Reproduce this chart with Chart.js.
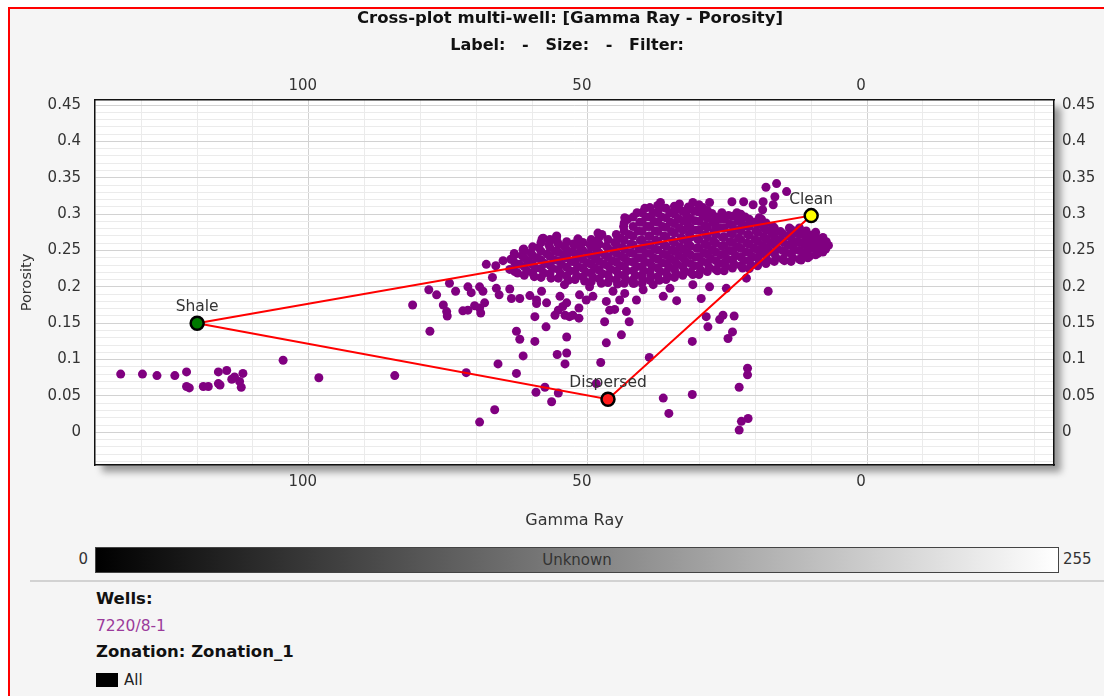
<!DOCTYPE html>
<html>
<head>
<meta charset="utf-8">
<title>Cross-plot multi-well: [Gamma Ray - Porosity]</title>
<script src="https://cdn.jsdelivr.net/npm/chart.js@4.4.0/dist/chart.umd.min.js"></script>
<style>
  html, body { margin: 0; padding: 0; }
  body { width: 1104px; height: 696px; position: relative; overflow: hidden; background: #ffffff;
         font-family: "DejaVu Sans", Verdana, sans-serif; color: #222; }
  #panel { position: absolute; left: 8px; top: 7px; width: 1110px; height: 700px;
           border-left: 2px solid #ff0000; border-top: 2px solid #ff0000; background: #f5f5f5; }
  #plot { position: absolute; left: 0; top: 0; }
  .txt { position: absolute; white-space: pre; }
  .center { transform: translateX(-50%); }
  #title { left: 570px; top: 8px; line-height: 20px; font-weight: bold; font-size: 16.5px; color: #111; }
  #subtitle { left: 567px; top: 35px; line-height: 20px; font-weight: bold; font-size: 16px; color: #111; }
  #scalebar { position: absolute; left: 95px; top: 547px; width: 962px; height: 24px;
              border: 1px solid #444; background: linear-gradient(to right, #000000, #ffffff);
              text-align: center; line-height: 24px; font-size: 15px; color: #333; }
  #sep { position: absolute; left: 30px; top: 580px; width: 1074px; height: 2px; background: #d2d2d2; }
  .legend-head { font-weight: bold; font-size: 16.5px; color: #111; line-height: 20px; }
  #swatch { position: absolute; left: 96px; top: 673px; width: 22px; height: 14px; background: #000; }
</style>
</head>
<body>
<div id="panel"></div>
<canvas id="plot" width="1104" height="540"></canvas>

<div id="title" class="txt center">Cross-plot multi-well: [Gamma Ray - Porosity]</div>
<div id="subtitle" class="txt center">Label:   -   Size:   -   Filter:</div>

<div id="scalebar">Unknown</div>
<div class="txt" style="left:60px; width:28px; text-align:right; top:549px; line-height:20px; font-size:15px; color:#333;">0</div>
<div class="txt" style="left:1063px; top:549px; line-height:20px; font-size:15px; color:#333;">255</div>
<div id="sep"></div>

<div class="txt legend-head" style="left:96px; top:589px;">Wells:</div>
<div class="txt" style="left:96px; top:616px; line-height:20px; font-size:15.5px; color:#9b3b9b;">7220/8-1</div>
<div class="txt legend-head" style="left:96px; top:642px;">Zonation: Zonation_1</div>
<div id="swatch"></div>
<div class="txt" style="left:124px; top:670px; line-height:20px; font-size:15px; color:#222;">All</div>

<script>
// Axis ranges (Gamma Ray runs right-to-left)
const grMin = -33.5;
const grMax = 138.3;
const phiMin = -0.045;
const phiMax = 0.457;

// End members of the shale / clean / dispersed triangle
const endMemberNames = ['Shale', 'Dispersed', 'Clean'];
const endMemberGR = [120, 46.4, 10];
const endMemberPhi = [0.15, 0.0455, 0.298];
const endMemberColors = ['#007a00', '#ff1a1a', '#ffff00'];

// Well 7220/8-1 samples as [gamma ray, porosity]
const shaleTail = [
  [133.7,0.080],[129.8,0.080],[127.2,0.078],[124.0,0.078],[121.9,0.083],[121.9,0.063],
  [121.4,0.061],[118.9,0.063],[118.0,0.063],[116.2,0.067],[115.9,0.065],[116.2,0.083],
  [114.7,0.085],[113.8,0.073],[113.3,0.076],[111.8,0.081],[112.4,0.070],[112.1,0.062],
  [104.6,0.099],[98.2,0.075],[84.6,0.078]
];

const lowScatter = [
  [81.4,0.175],[78.3,0.139],[75.9,0.175],[75.3,0.166],[75.2,0.160],[72.4,0.167],[71.5,0.168],
  [70.3,0.174],[69.4,0.171],[69.2,0.164],[68.5,0.178],[71.8,0.082],[69.4,0.014],[66.7,0.031],
  [66.1,0.094],[62.8,0.139],[62.2,0.128],[62.8,0.081],[61.6,0.105],[59.5,0.159],[59.5,0.125],
  [59.2,0.177],[59.2,0.182],[57.4,0.178],[59.3,0.055],[57.7,0.062],[57.5,0.145],[56.5,0.042],
  [55.9,0.161],[55.3,0.168],[54.5,0.173],[54.1,0.161],[53.8,0.178],[53.3,0.159],[52.7,0.161],
  [51.6,0.171],[51.6,0.157],[55.5,0.107],[53.8,0.109],[55.3,0.054],[54.1,0.094],[53.8,0.131],
  [47.7,0.096],[48.5,0.067],[47.0,0.152],[46.7,0.123],[46.1,0.168],[45.2,0.169],[44.0,0.134],
  [43.1,0.166],[42.6,0.152],[39.0,0.103],[36.5,0.047],[35.5,0.026],[31.3,0.125],[31.3,0.052],
  [28.8,0.159],[28.5,0.145],[26.4,0.155],[25.8,0.161],[23.8,0.160],[24.9,0.129],[24.1,0.138],
  [22.9,0.062],[21.4,0.088],[21.4,0.079],[22.5,0.015],[21.3,0.019],[22.9,0.003]
];

const bandFringe = [
  [78.5,0.196],[77.1,0.189],[74.8,0.205],[73.7,0.194],[71.5,0.200],[70.9,0.192],[69.4,0.200],
  [68.8,0.194],[68.2,0.231],[67.1,0.213],[66.4,0.198],[65.9,0.189],[64.0,0.197],[63.7,0.184],
  [62.2,0.184],[60.4,0.188],[58.3,0.194],[55.0,0.187],[54.2,0.203],[51.5,0.189],[49.7,0.200],
  [49.1,0.187],[46.7,0.180],[45.5,0.194],[43.4,0.191],[41.9,0.205],[40.1,0.196],[38.3,0.203],
  [36.5,0.187],[35.3,0.198],[34.1,0.181],[31.2,0.203],[29.7,0.184],[28.2,0.200],[25.2,0.198],
  [21.6,0.212],[17.7,0.194],[50.3,0.182],[44.3,0.182],[41.3,0.182],
  [58.0,0.267],[55.6,0.269],[51.8,0.266],[48.2,0.274],[43.4,0.295],[61.6,0.251]
];

const highScatter = [
  [18.1,0.337],[16.2,0.342],[14.4,0.331],[16.5,0.324],[18.6,0.317],[16.8,0.313],
  [20.4,0.313],[22.1,0.317],[24.2,0.317],[28.2,0.316],[18.7,0.306],[19.3,0.295]
];

const bandWest = [
  [66.5,0.229],[65.2,0.236],
  [64.0,0.224],[63.8,0.238],[63.2,0.246],
  [62.6,0.219],[62.3,0.231],[61.8,0.243],[61.5,0.252],
  [60.9,0.222],[60.7,0.236],[60.2,0.247],
  [59.6,0.214],[59.4,0.226],[59.1,0.240],[58.8,0.254],[58.2,0.266],
  [57.9,0.219],[57.7,0.232],[57.3,0.245],[57.0,0.258],
  [56.6,0.212],[56.3,0.225],[56.0,0.237],[55.8,0.249],[55.5,0.262],[55.6,0.270],
  [54.9,0.218],[54.7,0.231],[54.4,0.244],[54.2,0.256],
  [53.5,0.209],[53.2,0.222],[53.0,0.235],[52.8,0.248],[52.6,0.259],
  [52.0,0.215],[51.8,0.228],[51.5,0.241],[51.3,0.253],[51.7,0.265],
  [50.6,0.208],[50.3,0.220],[50.1,0.233],[49.9,0.246],[49.6,0.258],
  [49.1,0.213],[48.8,0.226],[48.6,0.239],[48.4,0.251],[48.9,0.262],
  [47.6,0.205],[47.4,0.218],[47.1,0.231],[46.9,0.243],[46.7,0.256],[47.5,0.272],
  [46.1,0.211],[45.9,0.224],[45.6,0.236],[45.4,0.249],[45.2,0.261],
  [44.7,0.204],[44.5,0.217],[44.2,0.229],[44.0,0.242],[43.8,0.254],[44.1,0.267],[43.6,0.283],
  [43.2,0.210],[43.0,0.222],[42.8,0.235],[42.5,0.247],[42.3,0.259],[42.6,0.272],[42.9,0.293]
];

const bandEast = [
  [41.7,0.205],[41.5,0.216],[41.2,0.228],[41.0,0.240],[40.8,0.252],[40.6,0.264],[41.0,0.277],[40.7,0.289],[41.2,0.302],
  [40.2,0.211],[40.0,0.222],[39.7,0.234],[39.5,0.246],[39.3,0.258],[39.1,0.270],[39.4,0.283],[39.6,0.296],[39.8,0.308],
  [38.7,0.215],[38.5,0.228],[38.2,0.240],[38.0,0.252],[37.8,0.264],[37.9,0.277],[38.1,0.290],[38.3,0.302],
  [37.2,0.209],[37.0,0.221],[36.7,0.233],[36.5,0.245],[36.3,0.257],[36.4,0.270],[36.6,0.283],[36.8,0.296],[36.9,0.309],[37.0,0.316],
  [35.6,0.214],[35.4,0.227],[35.2,0.239],[35.0,0.251],[34.8,0.263],[35.0,0.276],[35.2,0.289],[35.3,0.302],
  [34.2,0.218],[34.0,0.231],[33.7,0.243],[33.5,0.255],[33.3,0.268],[33.6,0.281],[33.8,0.294],[33.9,0.307],[33.6,0.314],
  [32.7,0.222],[32.5,0.235],[32.2,0.247],[32.0,0.259],[31.8,0.272],[32.1,0.285],[32.3,0.298],[32.0,0.310],
  [31.2,0.217],[31.0,0.229],[30.7,0.241],[30.5,0.253],[30.3,0.265],[30.6,0.278],[30.8,0.291],[30.9,0.304],[31.2,0.316],
  [29.8,0.223],[29.5,0.235],[29.2,0.247],[29.0,0.259],[28.9,0.272],[29.1,0.284],[29.3,0.297],[29.4,0.309],
  [28.3,0.227],[28.0,0.239],[27.7,0.251],[27.5,0.263],[27.4,0.276],[27.6,0.289],[27.8,0.301],
  [26.8,0.222],[26.5,0.232],[26.2,0.244],[26.0,0.256],[25.9,0.268],[26.1,0.281],[26.3,0.293],[26.0,0.302],
  [25.3,0.228],[25.0,0.238],[24.7,0.250],[24.5,0.262],[24.4,0.274],[24.6,0.286],[24.8,0.298],
  [23.8,0.231],[23.5,0.243],[23.2,0.255],[23.0,0.267],[22.9,0.279],[23.1,0.291],[23.3,0.302],
  [22.3,0.226],[22.0,0.236],[21.7,0.248],[21.5,0.260],[21.4,0.272],[21.6,0.284],[21.8,0.296],
  [20.8,0.230],[20.5,0.241],[20.2,0.253],[20.0,0.265],[19.9,0.277],[20.1,0.289],
  [19.3,0.234],[19.0,0.246],[18.7,0.257],[18.5,0.269],[18.4,0.281],[18.9,0.293],
  [17.8,0.236],[17.5,0.249],[17.2,0.261],[17.0,0.273],[16.9,0.283],
  [16.3,0.240],[16.0,0.252],[15.7,0.264],[15.5,0.276],
  [14.8,0.236],[14.5,0.247],[14.2,0.258],[14.0,0.270],[13.9,0.281],
  [13.3,0.240],[13.0,0.251],[12.7,0.262],[12.5,0.274],
  [11.8,0.237],[11.5,0.247],[11.2,0.258],[11.0,0.268],[10.9,0.277],
  [10.3,0.242],[10.0,0.253],[9.7,0.263],[9.5,0.272],
  [8.8,0.246],[8.5,0.256],[8.3,0.266],
  [7.4,0.252],[7.3,0.262]
];

// Samples lying between the rows above, where the band is packed solid
const bandInfill = [
  [63.1,0.221],[63.1,0.233],[63.1,0.244],
  [61.4,0.216],[61.4,0.228],[61.4,0.240],[61.4,0.250],
  [59.9,0.219],[59.9,0.231],[59.9,0.243],[59.9,0.255],
  [58.4,0.213],[58.4,0.225],[58.4,0.237],[58.4,0.249],[58.4,0.261],
  [56.8,0.218],[56.8,0.230],[56.8,0.242],[56.8,0.254],[56.8,0.265],
  [55.3,0.212],[55.3,0.224],[55.3,0.236],[55.3,0.248],[55.3,0.259],
  [53.8,0.215],[53.8,0.227],[53.8,0.240],[53.8,0.251],[53.8,0.262],
  [52.3,0.210],[52.3,0.222],[52.3,0.234],[52.3,0.246],[52.3,0.258],
  [50.9,0.214],[50.9,0.226],[50.9,0.238],[50.9,0.250],[50.9,0.261],
  [49.4,0.207],[49.4,0.219],[49.4,0.231],[49.4,0.243],[49.4,0.255],[49.4,0.265],
  [48.0,0.211],[48.0,0.223],[48.0,0.235],[48.0,0.247],[48.0,0.259],[48.0,0.268],
  [46.4,0.206],[46.4,0.217],[46.4,0.229],[46.4,0.241],[46.4,0.253],[46.4,0.265],
  [44.9,0.210],[44.9,0.222],[44.9,0.234],[44.9,0.246],[44.9,0.258],[44.9,0.272],
  [43.5,0.205],[43.5,0.216],[43.5,0.228],[43.5,0.240],[43.5,0.252],[43.5,0.264],[43.5,0.277],[43.5,0.288],
  [41.9,0.210],[41.9,0.222],[41.9,0.234],[41.9,0.246],[41.9,0.258],[41.9,0.270],[41.9,0.283],[41.9,0.296],
  [40.3,0.205],[40.3,0.216],[40.3,0.228],[40.3,0.240],[40.3,0.252],[40.3,0.264],[40.3,0.276],[40.3,0.289],[40.3,0.302],
  [38.9,0.209],[38.9,0.221],[38.9,0.233],[38.9,0.246],[38.9,0.258],[38.9,0.270],[38.9,0.283],[38.9,0.296],[38.9,0.309],
  [37.5,0.214],[37.5,0.226],[37.5,0.238],[37.5,0.251],[37.5,0.263],[37.5,0.276],[37.5,0.289],[37.5,0.302],[37.5,0.312],
  [36.0,0.210],[36.0,0.220],[36.0,0.232],[36.0,0.244],[36.0,0.256],[36.0,0.269],[36.0,0.282],[36.0,0.295],[36.0,0.308],
  [34.5,0.213],[34.5,0.224],[34.5,0.236],[34.5,0.249],[34.5,0.261],[34.5,0.274],[34.5,0.287],[34.5,0.300],[34.5,0.311],
  [33.0,0.216],[33.0,0.228],[33.0,0.240],[33.0,0.252],[33.0,0.265],[33.0,0.278],[33.0,0.291],[33.0,0.304],
  [31.6,0.220],[31.6,0.232],[31.6,0.244],[31.6,0.256],[31.6,0.268],[31.6,0.281],[31.6,0.294],[31.6,0.307],
  [30.1,0.217],[30.1,0.229],[30.1,0.241],[30.1,0.253],[30.1,0.265],[30.1,0.278],[30.1,0.290],[30.1,0.303],[30.1,0.313],
  [28.6,0.221],[28.6,0.233],[28.6,0.245],[28.6,0.257],[28.6,0.269],[28.6,0.282],[28.6,0.294],[28.6,0.305],
  [27.1,0.224],[27.1,0.236],[27.1,0.248],[27.1,0.260],[27.1,0.272],[27.1,0.284],[27.1,0.296],
  [25.6,0.222],[25.6,0.233],[25.6,0.245],[25.6,0.257],[25.6,0.269],[25.6,0.281],[25.6,0.293],
  [24.1,0.226],[24.1,0.237],[24.1,0.249],[24.1,0.261],[24.1,0.273],[24.1,0.285],[24.1,0.297],
  [22.6,0.229],[22.6,0.241],[22.6,0.253],[22.6,0.265],[22.6,0.277],[22.6,0.289],[22.6,0.300],
  [21.1,0.225],[21.1,0.236],[21.1,0.247],[21.1,0.259],[21.1,0.271],[21.1,0.283],[21.1,0.293],
  [19.6,0.229],[19.6,0.240],[19.6,0.251],[19.6,0.263],[19.6,0.275],[19.6,0.286],
  [18.1,0.232],[18.1,0.243],[18.1,0.254],[18.1,0.266],[18.1,0.278],[18.1,0.288],
  [16.6,0.235],[16.6,0.246],[16.6,0.258],[16.6,0.270],[16.6,0.281],
  [15.1,0.238],[15.1,0.250],[15.1,0.262],[15.1,0.273],
  [13.6,0.235],[13.6,0.246],[13.6,0.257],[13.6,0.268],[13.6,0.279],
  [12.1,0.238],[12.1,0.250],[12.1,0.261],[12.1,0.272],[12.1,0.281],
  [10.6,0.240],[10.6,0.251],[10.6,0.262],[10.6,0.272],
  [9.2,0.244],[9.2,0.255],[9.2,0.265],[9.2,0.275],
  [7.9,0.248],[7.9,0.258],[7.9,0.268],
  [6.9,0.257]
];

const FONT = '"DejaVu Sans", Verdana, sans-serif';
const TICK_COLOR = '#333';

const wellPoints = [shaleTail, lowScatter, bandFringe, highScatter, bandWest, bandEast, bandInfill]
  .flat()
  .map(([gr, phi]) => ({ x: gr, y: phi }));

const endMembers = endMemberNames.map((name, i) => ({ x: endMemberGR[i], y: endMemberPhi[i], name }));
// Shale -> Clean -> Dispersed -> Shale
const triangle = [endMembers[0], endMembers[2], endMembers[1], endMembers[0]].map(p => ({ x: p.x, y: p.y }));

const isMajorGR = v => Math.abs(v % 50) < 1e-6;
const isMajorPhi = v => Math.abs(v * 20 - Math.round(v * 20)) < 1e-6;
const grLabel = v => (isMajorGR(v) ? String(Math.round(v)) : '');
const phiLabel = v => (v > -1e-9 && isMajorPhi(v) ? String(Number(v.toFixed(2))) : '');

// White plot area with a soft drop shadow
const plotBackdrop = {
  id: 'plotBackdrop',
  beforeDraw(chart) {
    const { ctx, chartArea: a } = chart;
    ctx.save();
    ctx.shadowColor = 'rgba(0,0,0,0.38)';
    ctx.shadowBlur = 7;
    ctx.shadowOffsetX = 7;
    ctx.shadowOffsetY = 7;
    ctx.fillStyle = '#ffffff';
    ctx.fillRect(a.left, a.top, a.right - a.left, a.bottom - a.top);
    ctx.restore();
  }
};

// Names written above the end-member markers
const endMemberLabels = {
  id: 'endMemberLabels',
  afterDatasetsDraw(chart) {
    const { ctx, scales } = chart;
    ctx.save();
    ctx.font = '15.5px ' + FONT;
    ctx.fillStyle = '#333';
    ctx.textAlign = 'center';
    ctx.textBaseline = 'alphabetic';
    endMembers.forEach(p => {
      const px = scales.x.getPixelForValue(p.x);
      const py = scales.y.getPixelForValue(p.y);
      ctx.fillText(p.name, px, py - 12);
    });
    ctx.restore();
  }
};

const grTicks = (padding) => ({
  stepSize: 10, autoSkip: false, includeBounds: false, maxRotation: 0, minRotation: 0,
  padding, labelOffset: -6, color: TICK_COLOR, font: { family: FONT, size: 15 }, callback: grLabel
});
const phiTicks = (padding) => ({
  stepSize: 0.01, autoSkip: false, includeBounds: false,
  padding, color: TICK_COLOR, font: { family: FONT, size: 15 }, callback: phiLabel
});
const frame = { display: true, color: '#111', width: 1.5 };

new Chart(document.getElementById('plot'), {
  type: 'scatter',
  data: {
    datasets: [
      {
        label: 'End members',
        data: endMembers.map(p => ({ x: p.x, y: p.y })),
        order: 0,
        pointStyle: 'circle',
        pointRadius: 6.5,
        pointBackgroundColor: endMemberColors,
        pointBorderColor: '#000',
        pointBorderWidth: 2.5
      },
      {
        label: 'Triangle',
        data: triangle,
        order: 1,
        showLine: true,
        borderColor: '#ff0000',
        borderWidth: 2,
        tension: 0,
        pointRadius: 0,
        fill: false
      },
      {
        label: '7220/8-1',
        data: wellPoints,
        order: 2,
        pointRadius: 4.5,
        pointBackgroundColor: '#800080',
        pointBorderWidth: 0
      }
    ]
  },
  options: {
    responsive: false,
    devicePixelRatio: 1,
    animation: false,
    layout: { padding: 0 },
    plugins: { legend: { display: false }, tooltip: { enabled: false }, title: { display: false } },
    scales: {
      x: {
        type: 'linear', position: 'bottom', reverse: true, min: grMin, max: grMax,
        afterFit: s => { s.height = 75; },
        ticks: grTicks(8),
        grid: { drawTicks: false, lineWidth: 1, color: c => (c.tick && isMajorGR(c.tick.value) ? '#d2d2d2' : '#ebebeb') },
        border: frame,
        title: { display: true, text: 'Gamma Ray', color: '#333', font: { family: FONT, size: 16 }, padding: { top: 0, bottom: 10 } }
      },
      x2: {
        type: 'linear', position: 'top', reverse: true, min: grMin, max: grMax,
        afterFit: s => { s.height = 100; },
        ticks: grTicks(5),
        grid: { display: false, drawTicks: false },
        border: frame
      },
      y: {
        type: 'linear', position: 'left', min: phiMin, max: phiMax,
        afterFit: s => { s.width = 95; },
        ticks: phiTicks(14),
        grid: { drawTicks: false, lineWidth: 1, color: c => (c.tick && isMajorPhi(c.tick.value) ? '#d2d2d2' : '#ebebeb') },
        border: frame,
        title: { display: true, text: 'Porosity', color: '#333', font: { family: FONT, size: 14.5 }, padding: { top: 19, bottom: 0 } }
      },
      y2: {
        type: 'linear', position: 'right', min: phiMin, max: phiMax,
        afterFit: s => { s.width = 50; },
        ticks: phiTicks(8),
        grid: { display: false, drawTicks: false },
        border: frame
      }
    }
  },
  plugins: [plotBackdrop, endMemberLabels]
});
</script>
</body>
</html>
